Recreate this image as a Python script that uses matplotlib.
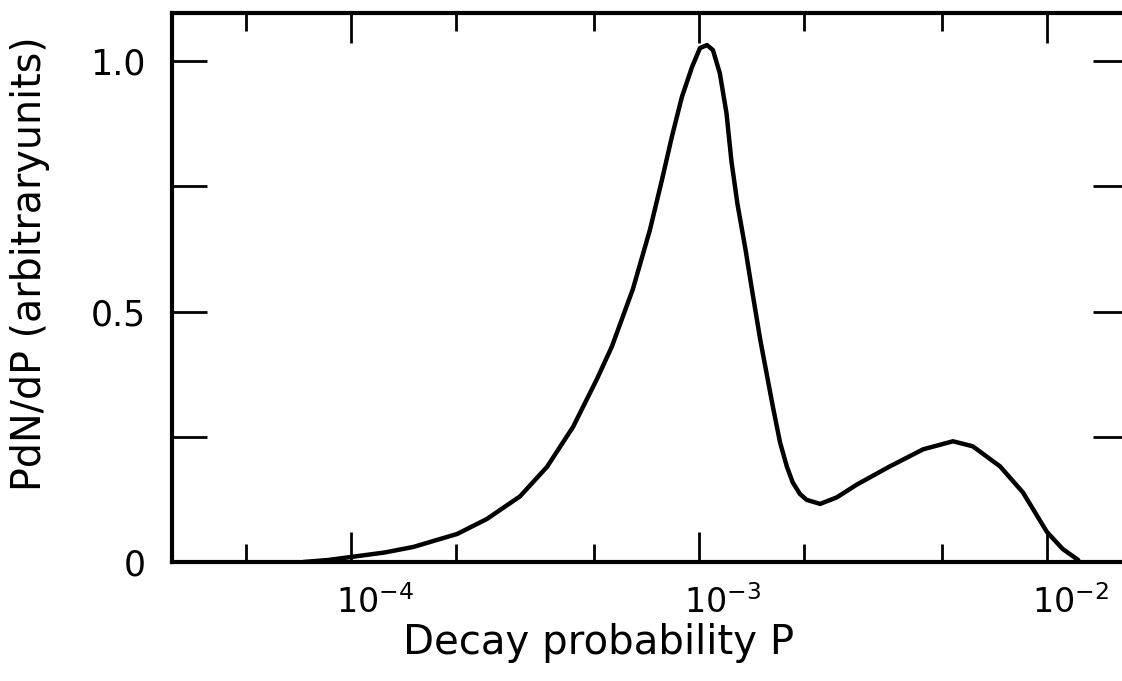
import matplotlib.pyplot as plt
from matplotlib.ticker import LogLocator, NullFormatter, FixedLocator
from matplotlib.transforms import ScaledTranslation

plt.rcParams['font.family'] = ['DejaVu Sans']
plt.rcParams['mathtext.fontset'] = 'dejavusans'

# decay probability P and PdN/dP (arbitrary units)
prob = [7.3e-5, 8.6e-5, 1.0e-4, 1.25e-4, 1.51e-4, 2.02e-4, 2.46e-4, 3.06e-4,
        3.66e-4, 4.35e-4, 5.09e-4, 5.62e-4, 6.46e-4, 7.23e-4, 7.83e-4,
        8.36e-4, 8.93e-4, 9.55e-4, 1.007e-3, 1.055e-3, 1.097e-3, 1.148e-3,
        1.20e-3, 1.24e-3, 1.29e-3, 1.36e-3, 1.42e-3, 1.50e-3, 1.63e-3,
        1.71e-3, 1.79e-3, 1.86e-3, 1.95e-3, 2.04e-3, 2.23e-3, 2.49e-3,
        2.85e-3, 3.54e-3, 4.41e-3, 5.37e-3, 6.12e-3, 7.33e-3, 8.53e-3,
        1.0e-2, 1.11e-2, 1.23e-2]
dens = [0.0, 0.004, 0.01, 0.019, 0.03, 0.056, 0.086, 0.131,
        0.19, 0.27, 0.365, 0.43, 0.545, 0.663, 0.763,
        0.849, 0.928, 0.988, 1.026, 1.032, 1.022, 0.976,
        0.896, 0.80, 0.715, 0.625, 0.544, 0.444, 0.311,
        0.239, 0.19, 0.159, 0.136, 0.124, 0.116, 0.129,
        0.155, 0.191, 0.225, 0.241, 0.231, 0.191, 0.139,
        0.06, 0.026, 0.004]

ytick_vals = [0, 0.5, 1.0]
ytick_labels = ['0', '0.5', '1.0']
yminor_vals = [0.25, 0.75]
xtick_vals = [1e-4, 1e-3, 1e-2]

fig = plt.figure(figsize=(11.22, 6.81), dpi=100)
ax = fig.add_axes([172 / 1122, 1 - 562 / 681, (1128 - 172) / 1122, (562 - 13) / 681])

ax.plot(prob, dens, color='black', lw=3.2, solid_joinstyle='round', solid_capstyle='round')

ax.set_xscale('log')
ax.set_xlim(3.06e-5, 1.71e-2)
ax.set_ylim(0, 1.096)

ax.set_xticks(xtick_vals)
ax.xaxis.set_minor_locator(LogLocator(base=10, subs=(2.0, 5.0), numticks=10))
ax.xaxis.set_minor_formatter(NullFormatter())
ax.set_yticks(ytick_vals, labels=ytick_labels)
ax.yaxis.set_minor_locator(FixedLocator(yminor_vals))

for s in ax.spines.values():
    s.set_linewidth(3)

ax.tick_params(which='both', direction='in', top=True, right=True, width=2,
               colors='black')
ax.tick_params(axis='x', which='major', length=21.6, pad=17, labelsize=24)
ax.tick_params(axis='x', which='minor', length=13)
ax.tick_params(axis='y', which='both', length=25, pad=19, labelsize=25)

# the "10" sits over the tick, the exponent hangs to the right
shift = ScaledTranslation(0.24, 0, fig.dpi_scale_trans)
for lab in ax.get_xticklabels():
    lab.set_transform(lab.get_transform() + shift)

ax.set_xlabel('Decay probability P', fontsize=29, va='top')
ax.xaxis.set_label_coords(0.446, -0.112)
ax.set_ylabel('PdN/dP (arbitraryunits)', fontsize=28.5, va='bottom')
ax.yaxis.set_label_coords(-0.128, 0.543)

fig.savefig('out.png', dpi=100)
